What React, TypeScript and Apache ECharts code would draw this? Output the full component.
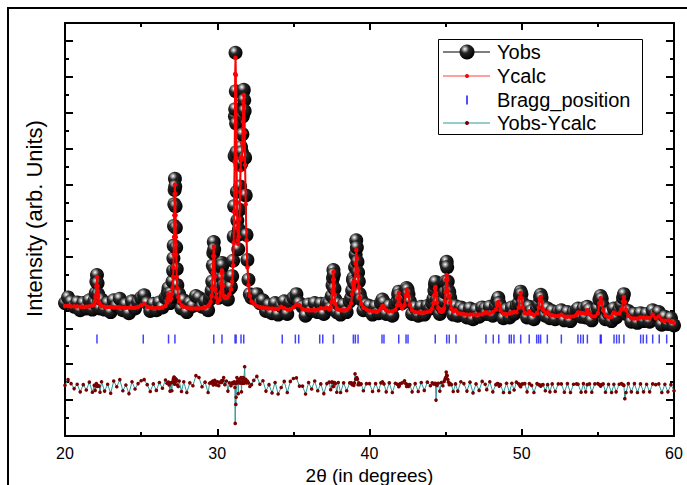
import { useEffect, useRef } from "react";
import * as echarts from "echarts";

// 2θ positions of the scan points (degrees)
const TWO_THETA = [
  20.0, 20.2, 20.4, 20.6, 20.8, 21.0, 21.2, 21.4, 21.6, 21.8,
  21.92, 21.98, 22.02, 22.06, 22.10, 22.14, 22.18, 22.24, 22.30,
  22.4, 22.6, 22.8, 23.0, 23.2, 23.4, 23.6, 23.8, 24.0, 24.2, 24.4, 24.6, 24.8, 25.0, 25.2, 25.4, 25.6, 25.8, 26.0, 26.2, 26.4, 26.6,
  26.70, 26.76, 26.80, 26.84, 26.90, 26.96, 27.02, 27.06, 27.10, 27.12, 27.14, 27.16, 27.18, 27.20, 27.22, 27.24, 27.26, 27.28, 27.30, 27.34, 27.38, 27.44,
  27.50, 27.65, 27.8, 28.0, 28.2, 28.4, 28.6, 28.8, 29.0, 29.2, 29.4,
  29.50, 29.57, 29.63, 29.67, 29.71, 29.74, 29.77, 29.80, 29.84, 29.88, 29.94, 30.02, 30.10,
  30.16, 30.22, 30.26, 30.29, 30.31, 30.33, 30.37, 30.42, 30.50, 30.60, 30.70, 30.80, 30.90, 30.98, 31.04,
  31.08, 31.11, 31.14, 31.16, 31.18, 31.20, 31.22, 31.24, 31.26, 31.29, 31.32, 31.35, 31.38, 31.42, 31.46, 31.50, 31.53, 31.56, 31.59, 31.62, 31.65, 31.68, 31.71, 31.74, 31.77, 31.80, 31.83, 31.87, 31.92, 31.98, 32.05, 32.14, 32.25,
  32.4, 32.6, 32.8, 33.0, 33.2, 33.4, 33.6, 33.8, 34.0, 34.2, 34.4, 34.6, 34.8, 35.0, 35.2, 35.4, 35.6, 35.8, 36.0, 36.2, 36.4, 36.6, 36.8, 37.0, 37.2,
  37.35, 37.45, 37.52, 37.57, 37.60, 37.63, 37.66, 37.70, 37.76, 37.85, 37.95,
  38.1, 38.3, 38.5, 38.7, 38.80, 38.86, 38.91, 38.94, 38.97, 39.01, 39.05, 39.09, 39.13, 39.17, 39.21, 39.25, 39.30, 39.36, 39.45, 39.6, 39.8,
  40.0, 40.2, 40.4, 40.6, 40.75, 40.85, 40.95, 41.1, 41.3, 41.5, 41.7, 41.82, 41.88, 41.92, 41.96, 42.02, 42.15, 42.3, 42.38, 42.44, 42.50, 42.56, 42.65, 42.8, 43.0, 43.2, 43.4, 43.6, 43.8, 44.0,
  44.12, 44.2, 44.26, 44.30, 44.33, 44.37, 44.43, 44.52, 44.62, 44.72, 44.82, 44.90, 44.96, 45.00, 45.04, 45.07, 45.10, 45.14, 45.19, 45.24, 45.30, 45.38, 45.5, 45.65, 45.8, 46.0,
  46.2, 46.4, 46.6, 46.8, 47.0, 47.2, 47.4, 47.6, 47.7, 47.9, 48.1, 48.3, 48.4, 48.46, 48.52, 48.6, 48.8, 49.0, 49.2, 49.35,
  49.5, 49.65, 49.8, 49.88, 49.93, 49.98, 50.06, 50.2, 50.35, 50.5, 50.65, 50.8, 51.0, 51.12, 51.2, 51.25, 51.3, 51.4, 51.55, 51.7,
  51.85, 52.0, 52.2, 52.4, 52.6, 52.8, 53.0, 53.2, 53.4, 53.6, 53.7, 53.9, 54.05, 54.2, 54.3, 54.45, 54.6, 54.8, 55.0, 55.1,
  55.18, 55.25, 55.35, 55.5, 55.7, 55.9, 56.05, 56.2, 56.4, 56.55, 56.65, 56.71, 56.77, 56.85, 57.0, 57.2, 57.4, 57.6, 57.8, 58.0,
  58.2, 58.4, 58.6, 58.8, 59.0, 59.2, 59.4, 59.6, 59.8, 60.0,
];

// observed intensity (arb. units)
const Y_OBS = [
  3.70, 3.86, 3.74, 3.60, 3.72, 3.50, 3.70, 3.55, 3.78, 3.52,
  3.75, 3.70, 3.98, 4.30, 4.48, 4.25, 3.95, 3.78, 3.55,
  3.80, 3.52, 3.70, 3.45, 3.78, 3.62, 3.82, 3.50, 3.66, 3.42, 3.75, 3.55, 3.72, 3.85, 3.92, 3.70, 3.48, 3.68, 3.50, 3.72, 3.58, 3.85,
  3.85, 4.00, 4.12, 3.95, 3.70, 3.98, 3.88, 4.30, 4.60, 4.95, 5.30, 5.85, 6.45, 6.85, 7.16, 6.95, 6.40, 5.80, 5.25, 4.65, 4.20, 3.92,
  3.95, 3.55, 3.78, 3.45, 3.70, 3.62, 3.90, 3.85, 3.60, 3.75, 3.50,
  3.80, 3.90, 4.05, 4.30, 4.75, 5.10, 5.40, 5.20, 4.65, 4.20, 3.95, 3.90, 3.85,
  3.95, 4.15, 4.45, 4.70, 4.82, 4.75, 4.40, 4.20, 3.95, 4.05, 3.80, 4.10, 4.15, 4.45, 4.88,
  5.55, 6.40, 7.80, 8.90, 9.10, 10.67, 9.60, 8.70, 7.90, 6.80, 6.00, 5.60, 5.20, 5.75, 6.30, 6.95, 7.55, 8.05, 7.60, 7.90, 8.40, 8.90, 9.60, 9.64, 9.35, 9.05, 7.75, 6.70, 5.60, 4.90, 4.35, 3.95, 3.85,
  3.90, 3.95, 3.70, 3.78, 3.48, 3.65, 3.42, 3.70, 3.38, 3.62, 3.75, 3.40, 3.72, 3.85, 3.95, 3.70, 3.60, 3.35, 3.66, 3.48, 3.70, 3.45, 3.68, 3.40, 3.70,
  3.70, 3.55, 3.90, 4.20, 4.40, 4.62, 4.50, 4.10, 3.80, 3.45, 3.68,
  3.38, 3.65, 3.45, 3.75, 3.85, 4.05, 4.35, 4.40, 4.30, 4.25, 4.70, 5.05, 5.45, 5.25, 4.85, 4.55, 4.30, 3.95, 3.80, 3.50, 3.65,
  3.62, 3.38, 3.60, 3.42, 3.70, 3.80, 3.72, 3.40, 3.62, 3.35, 3.66, 3.75, 3.95, 4.02, 3.92, 3.78, 3.70, 3.85, 4.05, 4.12, 4.08, 3.95, 3.75, 3.40, 3.58, 3.35, 3.60, 3.38, 3.62, 3.55,
  3.70, 3.82, 4.05, 4.22, 4.29, 3.65, 3.80, 3.70, 3.40, 3.62, 3.55, 3.75, 4.00, 4.30, 4.80, 4.85, 4.70, 4.30, 4.05, 4.00, 3.85, 3.65, 3.38, 3.62, 3.35, 3.58,
  3.52, 3.30, 3.55, 3.25, 3.50, 3.32, 3.58, 3.55, 3.40, 3.60, 3.35, 3.62, 3.78, 3.85, 3.70, 3.60, 3.28, 3.52, 3.30, 3.58,
  3.40, 3.62, 3.70, 3.92, 4.02, 3.95, 3.70, 3.55, 3.30, 3.60, 3.48, 3.25, 3.55, 3.68, 3.88, 3.93, 3.85, 3.62, 3.35, 3.55,
  3.28, 3.48, 3.25, 3.46, 3.50, 3.22, 3.45, 3.20, 3.44, 3.50, 3.55, 3.32, 3.55, 3.30, 3.60, 3.52, 3.22, 3.45, 3.55, 3.80,
  3.90, 3.82, 3.62, 3.25, 3.42, 3.20, 3.55, 3.30, 3.52, 3.65, 3.85, 3.95, 3.45, 3.40, 3.48, 3.18, 3.40, 3.15, 3.42, 3.20,
  3.40, 3.18, 3.50, 3.38, 3.45, 3.10, 3.32, 3.12, 3.28, 3.08,
];

// calculated profile
const Y_CALC = [
  3.62, 3.62, 3.61, 3.61, 3.61, 3.60, 3.60, 3.60, 3.61, 3.63,
  3.67, 3.76, 3.89, 4.17, 4.43, 4.17, 3.89, 3.72, 3.66,
  3.62, 3.60, 3.59, 3.59, 3.58, 3.58, 3.58, 3.57, 3.57, 3.57, 3.57, 3.57, 3.59, 3.64, 3.68, 3.60, 3.57, 3.56, 3.56, 3.56, 3.58, 3.62,
  3.71, 3.84, 3.95, 3.86, 3.78, 3.83, 3.95, 4.12, 4.43, 4.69, 5.05, 5.54, 6.15, 6.74, 7.00, 6.74, 6.15, 5.54, 5.05, 4.43, 4.11, 3.87,
  3.75, 3.64, 3.60, 3.57, 3.55, 3.55, 3.55, 3.55, 3.56, 3.58, 3.62,
  3.66, 3.74, 3.90, 4.12, 4.55, 5.01, 5.27, 5.01, 4.43, 4.09, 3.86, 3.72, 3.78,
  3.79, 3.99, 4.25, 4.54, 4.61, 4.55, 4.18, 3.90, 3.85, 3.85, 3.88, 3.95, 4.08, 4.30, 4.75,
  5.38, 6.24, 7.63, 8.88, 10.08, 10.53, 10.05, 8.95, 7.75, 6.50, 5.80, 5.45, 5.35, 5.55, 6.05, 6.80, 7.40, 7.75, 7.70, 7.75, 8.15, 8.75, 9.30, 9.50, 9.20, 8.45, 7.55, 6.45, 5.45, 4.70, 4.20, 3.90, 3.75,
  3.68, 3.62, 3.59, 3.57, 3.56, 3.55, 3.55, 3.54, 3.54, 3.60, 3.56, 3.52, 3.53, 3.58, 3.66, 3.64, 3.54, 3.51, 3.50, 3.50, 3.50, 3.52, 3.56, 3.55, 3.57,
  3.53, 3.59, 3.73, 4.03, 4.35, 4.57, 4.35, 3.94, 3.67, 3.56, 3.52,
  3.50, 3.50, 3.52, 3.60, 3.70, 3.95, 4.22, 4.29, 4.22, 4.10, 4.30, 4.80, 5.18, 4.95, 4.60, 4.45, 4.15, 3.85, 3.68, 3.57, 3.52,
  3.49, 3.47, 3.47, 3.49, 3.55, 3.62, 3.60, 3.50, 3.47, 3.47, 3.52, 3.64, 3.85, 3.98, 3.85, 3.65, 3.55, 3.64, 3.92, 4.07, 3.98, 3.90, 3.65, 3.50, 3.45, 3.44, 3.44, 3.44, 3.45, 3.48,
  3.55, 3.70, 3.92, 4.10, 4.15, 3.98, 3.72, 3.56, 3.48, 3.46, 3.48, 3.56, 3.75, 4.00, 4.35, 4.48, 4.35, 4.05, 3.88, 3.90, 3.72, 3.55, 3.47, 3.50, 3.43, 3.40,
  3.39, 3.38, 3.38, 3.38, 3.38, 3.38, 3.39, 3.44, 3.44, 3.42, 3.45, 3.52, 3.65, 3.73, 3.64, 3.50, 3.40, 3.38, 3.42, 3.44,
  3.45, 3.45, 3.58, 3.85, 3.98, 3.84, 3.58, 3.42, 3.40, 3.47, 3.40, 3.37, 3.42, 3.58, 3.80, 3.87, 3.76, 3.52, 3.42, 3.45,
  3.38, 3.36, 3.34, 3.34, 3.38, 3.33, 3.32, 3.32, 3.33, 3.38, 3.44, 3.43, 3.42, 3.40, 3.50, 3.40, 3.33, 3.33, 3.42, 3.70,
  3.84, 3.72, 3.50, 3.36, 3.31, 3.32, 3.44, 3.40, 3.41, 3.52, 3.75, 3.87, 3.74, 3.52, 3.35, 3.28, 3.27, 3.27, 3.30, 3.30,
  3.29, 3.28, 3.38, 3.28, 3.33, 3.22, 3.21, 3.22, 3.18, 3.15,
];

// difference curve (Yobs - Ycalc), shifted down under the Bragg marks
const Y_DIFF = [
  1.41, 1.57, 1.46, 1.32, 1.44, 1.23, 1.43, 1.28, 1.50, 1.22,
  1.41, 1.27, 1.42, 1.46, 1.38, 1.41, 1.39, 1.39, 1.22,
  1.51, 1.25, 1.44, 1.19, 1.53, 1.37, 1.57, 1.26, 1.42, 1.18, 1.51, 1.31, 1.46, 1.54, 1.57, 1.43, 1.24, 1.45, 1.27, 1.49, 1.33, 1.56,
  1.47, 1.49, 1.50, 1.42, 1.25, 1.48, 1.26, 1.51, 1.50, 1.59, 1.58, 1.64, 1.63, 1.44, 1.49, 1.54, 1.58, 1.59, 1.53, 1.55, 1.42, 1.38,
  1.53, 1.24, 1.51, 1.21, 1.48, 1.40, 1.68, 1.63, 1.37, 1.50, 1.21,
  1.47, 1.49, 1.48, 1.51, 1.53, 1.42, 1.46, 1.52, 1.55, 1.44, 1.42, 1.51, 1.40,
  1.49, 1.49, 1.53, 1.49, 1.54, 1.53, 1.55, 1.63, 1.43, 1.53, 1.25, 1.48, 1.40, 1.48, 1.46,
  1.50, 1.49, 1.50, 1.35, 0.35, 1.47, 0.88, 1.08, 1.48, 1.63, 1.53, 1.48, 1.18, 1.53, 1.58, 1.48, 1.48, 1.63, 1.23, 1.48, 1.58, 1.48, 1.63, 1.47, 1.48, 1.93, 1.53, 1.58, 1.48, 1.53, 1.48, 1.38, 1.43,
  1.55, 1.66, 1.44, 1.54, 1.25, 1.43, 1.20, 1.49, 1.17, 1.35, 1.52, 1.21, 1.52, 1.60, 1.62, 1.39, 1.39, 1.17, 1.49, 1.31, 1.53, 1.26, 1.45, 1.18, 1.46,
  1.50, 1.29, 1.50, 1.50, 1.38, 1.38, 1.48, 1.49, 1.46, 1.22, 1.49,
  1.21, 1.48, 1.26, 1.48, 1.48, 1.43, 1.46, 1.44, 1.41, 1.48, 1.73, 1.58, 1.60, 1.63, 1.58, 1.43, 1.48, 1.43, 1.45, 1.26, 1.46,
  1.46, 1.24, 1.46, 1.26, 1.48, 1.51, 1.45, 1.23, 1.48, 1.21, 1.47, 1.44, 1.43, 1.37, 1.40, 1.46, 1.48, 1.54, 1.46, 1.38, 1.43, 1.38, 1.43, 1.23, 1.46, 1.24, 1.49, 1.27, 1.50, 1.40,
  1.48, 1.45, 1.46, 1.45, 1.47, 1.00, 1.41, 1.47, 1.25, 1.49, 1.40, 1.52, 1.58, 1.63, 1.78, 1.70, 1.68, 1.58, 1.50, 1.43, 1.46, 1.43, 1.24, 1.45, 1.25, 1.51,
  1.46, 1.25, 1.50, 1.20, 1.45, 1.27, 1.52, 1.44, 1.29, 1.51, 1.23, 1.43, 1.46, 1.45, 1.39, 1.43, 1.21, 1.47, 1.21, 1.47,
  1.28, 1.50, 1.45, 1.40, 1.37, 1.44, 1.45, 1.46, 1.23, 1.46, 1.41, 1.21, 1.46, 1.43, 1.41, 1.39, 1.42, 1.43, 1.26, 1.43,
  1.23, 1.45, 1.24, 1.45, 1.45, 1.22, 1.46, 1.21, 1.44, 1.45, 1.44, 1.22, 1.46, 1.23, 1.43, 1.45, 1.22, 1.45, 1.46, 1.43,
  1.39, 1.43, 1.45, 1.22, 1.44, 1.21, 1.44, 1.23, 1.44, 1.46, 1.43, 1.41, 1.04, 1.21, 1.46, 1.23, 1.46, 1.21, 1.45, 1.23,
  1.44, 1.23, 1.45, 1.43, 1.45, 1.21, 1.44, 1.23, 1.43, 1.26,
];

// reflection positions (degrees) drawn as tick marks
const BRAGG_POSITIONS = [
  22.10, 25.14, 26.80, 27.22, 29.77, 30.31, 31.17, 31.24, 31.56, 31.74,
  34.27, 35.13, 35.35, 36.73, 36.93, 37.63, 38.94, 39.07, 39.25,
  40.82, 40.95, 41.92, 42.40, 42.53, 44.32, 45.07, 45.24, 45.68,
  47.65, 48.13, 48.49, 49.18, 49.31, 49.49, 49.93, 50.49, 50.98, 51.11, 51.24, 51.68,
  52.60, 53.69, 53.87, 54.04, 54.31, 55.16, 55.22, 56.06, 56.23, 56.40, 56.71,
  57.81, 57.98, 58.20, 58.60, 59.03, 59.52,
];
const BRAGG_LEVEL = 2.7;

const LEGEND_LABELS = ["Yobs", "Ycalc", "Bragg_position", "Yobs-Ycalc"];
const X_NAME = "2θ (in degrees)";
const Y_NAME = "Intensity (arb. Units)";

const FONT = "'Liberation Sans', Arial, Helvetica, sans-serif";

function sphere() {
  return new echarts.graphic.RadialGradient(0.36, 0.3, 0.7, [
    { offset: 0, color: "#ffffff" },
    { offset: 0.12, color: "#bcbcbc" },
    { offset: 0.4, color: "#262626" },
    { offset: 1, color: "#000000" },
  ]);
}

export default function App() {
  const ref = useRef<HTMLDivElement>(null);

  useEffect(() => {
    const chart = echarts.init(ref.current as HTMLDivElement, null, { renderer: "svg" });
    const pairs = (ys: number[]) => TWO_THETA.map((x, i) => [x, ys[i]]);

    const axisLine = { show: true, onZero: false, lineStyle: { color: "#000", width: 2 } };
    const xAxisBase = {
      type: "value",
      min: 20,
      max: 60,
      interval: 10,
      axisLine,
      axisTick: { show: true, inside: true, length: 7, lineStyle: { color: "#000", width: 2 } },
      minorTick: { show: true, splitNumber: 2, length: 4, lineStyle: { color: "#000", width: 2 } },
      splitLine: { show: false },
      minorSplitLine: { show: false },
    };
    const yMajor = {
      type: "value",
      min: 0,
      max: 11.5,
      interval: 1,
      axisLine,
      axisTick: { show: true, inside: true, length: 8, lineStyle: { color: "#000", width: 2 } },
      axisLabel: { show: false },
      splitLine: { show: false },
    };
    const yMinor = {
      type: "value",
      min: 0,
      max: 23,
      interval: 1,
      axisLine: { show: false },
      axisTick: { show: true, inside: true, length: 4, lineStyle: { color: "#000", width: 2 } },
      axisLabel: { show: false },
      splitLine: { show: false },
    };

    const legendRows = [52, 76, 100, 123];
    const iconX1 = 443;
    const iconX2 = 490;
    const iconC = 467;

    chart.setOption({
      animation: false,
      backgroundColor: "#ffffff",
      grid: { left: 65, right: 13, top: 23, bottom: 49, containLabel: false, outerBoundsMode: "none" },
      xAxis: [
        {
          ...xAxisBase,
          position: "bottom",
          name: X_NAME,
          nameLocation: "middle",
          nameGap: 21,
          nameTextStyle: { fontSize: 19, fontFamily: FONT, color: "#000" },
          axisLabel: { show: true, fontSize: 16, fontFamily: FONT, color: "#000", margin: 9 },
        },
        { ...xAxisBase, position: "top", axisLabel: { show: false } },
      ],
      yAxis: [
        {
          ...yMajor,
          position: "left",
          name: Y_NAME,
          nameLocation: "middle",
          nameGap: 20,
          nameTextStyle: { fontSize: 22, fontFamily: FONT, color: "#000", padding: [0, 0, 0, 22] },
        },
        { ...yMajor, position: "right" },
        { ...yMinor, position: "left" },
        { ...yMinor, position: "right" },
      ],
      series: [
        {
          name: LEGEND_LABELS[0],
          type: "line",
          data: pairs(Y_OBS),
          symbol: "circle",
          symbolSize: 14,
          showSymbol: true,
          showAllSymbol: true,
          lineStyle: { color: "#000", width: 1 },
          itemStyle: { color: sphere(), borderWidth: 0 },
          silent: true,
          z: 2,
        },
        {
          name: LEGEND_LABELS[2],
          type: "scatter",
          data: BRAGG_POSITIONS.map((x) => [x, BRAGG_LEVEL]),
          symbol: "rect",
          symbolSize: [1.5, 9],
          itemStyle: { color: "#1414ff" },
          silent: true,
          z: 3,
        },
        {
          name: LEGEND_LABELS[3],
          type: "line",
          data: pairs(Y_DIFF),
          symbol: "circle",
          symbolSize: 3.6,
          showAllSymbol: true,
          lineStyle: { color: "#2f9a9a", width: 1 },
          itemStyle: { color: "#7a0000" },
          silent: true,
          z: 3,
        },
        {
          name: LEGEND_LABELS[1],
          type: "line",
          data: pairs(Y_CALC),
          symbol: "circle",
          symbolSize: 4.5,
          showAllSymbol: true,
          lineStyle: { color: "#ff0000", width: 2 },
          itemStyle: { color: "#ff0000" },
          silent: true,
          z: 4,
        },
      ],
      graphic: [
        {
          type: "polyline",
          shape: { points: [[8, 485], [8, 8], [687, 8]] },
          style: { stroke: "#000", lineWidth: 2, fill: null },
          silent: true,
        },
        {
          type: "rect",
          shape: { x: 438.5, y: 39.5, width: 204, height: 95 },
          style: { fill: "#fff", stroke: "#000", lineWidth: 1 },
          z: 10,
          silent: true,
        },
        {
          type: "line",
          shape: { x1: iconX1, y1: legendRows[0], x2: iconX2, y2: legendRows[0] },
          style: { stroke: "#000", lineWidth: 1 },
          z: 11,
        },
        {
          type: "circle",
          shape: { cx: iconC, cy: legendRows[0], r: 7.5 },
          style: { fill: sphere() },
          z: 12,
        },
        {
          type: "line",
          shape: { x1: iconX1, y1: legendRows[1], x2: iconX2, y2: legendRows[1] },
          style: { stroke: "#ff4040", lineWidth: 1 },
          z: 11,
        },
        {
          type: "circle",
          shape: { cx: iconC, cy: legendRows[1], r: 2 },
          style: { fill: "#ff0000" },
          z: 12,
        },
        {
          type: "line",
          shape: { x1: iconC, y1: legendRows[2] - 4.5, x2: iconC, y2: legendRows[2] + 4.5 },
          style: { stroke: "#1414ff", lineWidth: 1.5 },
          z: 11,
        },
        {
          type: "line",
          shape: { x1: iconX1, y1: legendRows[3], x2: iconX2, y2: legendRows[3] },
          style: { stroke: "#2f9a9a", lineWidth: 1.2 },
          z: 11,
        },
        {
          type: "circle",
          shape: { cx: iconC, cy: legendRows[3], r: 2 },
          style: { fill: "#7a0000" },
          z: 12,
        },
        ...LEGEND_LABELS.map((label, i) => ({
          type: "text",
          style: {
            text: label,
            x: 497,
            y: legendRows[i],
            fontSize: 20,
            fontFamily: FONT,
            fill: "#000",
            verticalAlign: "middle",
            align: "left",
          },
          z: 12,
        })),
      ],
    });

    return () => chart.dispose();
  }, []);

  return (
    <div
      ref={ref}
      style={{ position: "fixed", left: 0, top: 0, width: 687, height: 485, background: "#fff" }}
    />
  );
}
